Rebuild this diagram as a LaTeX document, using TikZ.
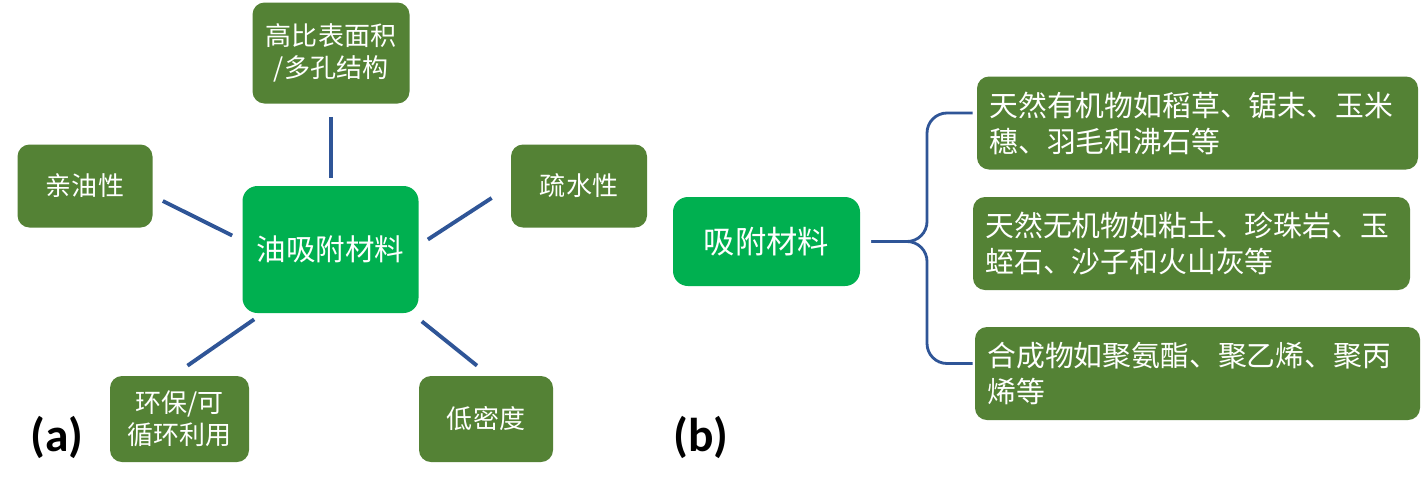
\documentclass[tikz,border=0pt]{standalone}
\usepackage{fontspec}
\setmainfont{Noto Sans CJK SC}
\newfontfamily\tagfont{Carlito}
\usetikzlibrary{positioning,calc}
\definecolor{leaf}{HTML}{548235}
\definecolor{lime}{HTML}{00B050}
\definecolor{ink}{HTML}{2F5597}
\tikzset{
  pbox/.style  = {fill=leaf, text=white, rounded corners=2.4mm, inner sep=2pt,
                  align=center, font=\fontsize{14.8}{18.2}\selectfont},
  cbox/.style  = {fill=lime, text=white, rounded corners=3mm, inner sep=2pt,
                  align=center, font=\fontsize{16.8}{20}\selectfont},
  wbox/.style  = {fill=leaf, text=white, rounded corners=2.4mm, inner xsep=0.25cm,
                  inner ysep=0pt, minimum height=1.86cm, align=left,
                  font=\fontsize{16.4}{20.5}\selectfont},
  link/.style  = {draw=ink, line width=2.2pt},
  blink/.style = {draw=ink, line width=1.6pt, rounded corners=0.4cm},
  tag/.style   = {font=\tagfont\bfseries\fontsize{27}{29}\selectfont, inner sep=0pt},
}

\begin{document}
\begin{tikzpicture}
  \useasboundingbox[fill=white] (0,0) rectangle (28.56,-9.78);
  % (a) properties
  \node[cbox, minimum width=3.52cm, minimum height=2.54cm] (core) at (6.61,-4.99) {油吸附材料};
  \node[pbox, minimum width=3.14cm, minimum height=2.02cm] (surf) at (6.62,-1.06) {高比表面积\\/多孔结构};
  \node[pbox, minimum width=2.70cm, minimum height=1.66cm] (lipo) at (1.70,-3.72) {亲油性};
  \node[pbox, minimum width=2.72cm, minimum height=1.66cm] (hydro) at (11.58,-3.72) {疏水性};
  \node[pbox, minimum width=2.78cm, minimum height=1.72cm] (eco) at (3.59,-8.38) {环保/可\\循环利用};
  \node[pbox, minimum width=2.68cm, minimum height=1.72cm] (dens) at (9.72,-8.38) {低密度};
  \draw[link] ([yshift=-2.6mm]surf.south) -- ([yshift=1.6mm]surf.south |- core.north);
  \draw[link] ([xshift=2mm,yshift=-3mm]lipo.east) -- ([xshift=-2mm,yshift=2.8mm]core.west);
  \draw[link] ([xshift=-3.8mm,yshift=-2.4mm]hydro.west) -- ([xshift=1.8mm,yshift=2mm]core.east);
  \draw[link] ([xshift=2.4mm,yshift=-1.2mm]core.south west) -- ([xshift=1.6mm,yshift=2mm]eco.north);
  \draw[link] ([xshift=0.6mm,yshift=-1.6mm]core.south east) -- ([xshift=-1.8mm,yshift=2mm]dens.north);
  \node[tag] (taga) at (1.14,-8.74) {(a)};
  % (b) kinds
  \node[cbox, minimum width=3.74cm, minimum height=1.78cm, font=\fontsize{17.8}{20}\selectfont] (sorb) at (15.33,-4.83) {吸附材料};
  \node[wbox, text width=8.32cm] (orga) at (23.95,-2.46) {天然有机物如稻草、锯末、玉米\\穗、羽毛和沸石等};
  \node[wbox, text width=8.24cm] (inor) at (23.83,-4.87) {天然无机物如粘土、珍珠岩、玉\\蛭石、沙子和火山灰等};
  \node[wbox, text width=8.40cm] (synt) at (23.95,-7.47) {合成物如聚氨酯、聚乙烯、聚丙\\烯等};
  \coordinate (tip) at ([xshift=2.2mm]sorb.east);
  \coordinate (knee) at (18.54,-4.83);
  \draw[blink] (tip) -- (knee) |- ([xshift=-0.8mm,yshift=2mm]orga.west);
  \draw[blink] (tip) -- (knee) |- ([xshift=-0.4mm,yshift=2mm]synt.west);
  \node[tag] (tagb) at (14.02,-8.74) {(b)};
\end{tikzpicture}
\end{document}
